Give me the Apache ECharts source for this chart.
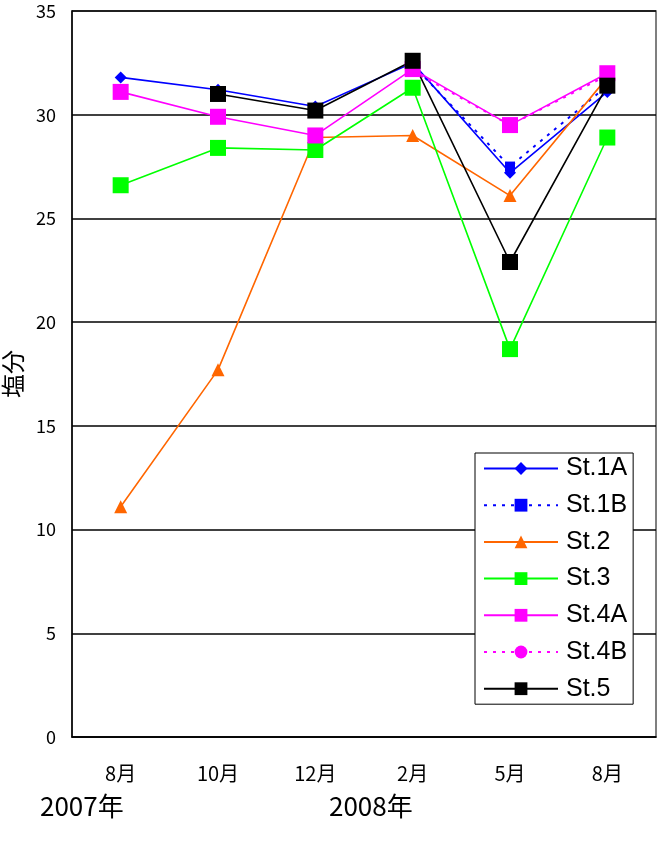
<!DOCTYPE html>
<html><head><meta charset="utf-8">
<script src="https://cdn.jsdelivr.net/npm/echarts@6/dist/echarts.min.js"></script>
<style>html,body{margin:0;padding:0;background:#fff}#c{width:660px;height:849px}</style>
</head><body><div id="c"></div>
<script>
const categories = ['8月', '10月', '12月', '2月', '5月', '8月'];
const yearLabels = ['2007年', '2008年'];
const st1A = [31.8, 31.2, 30.4, 32.5, 27.2, 31.1];
const st1B = [null, null, null, 32.4, 27.5, 31.4];
const st2  = [11.1, 17.7, 28.9, 29.0, 26.1, 31.8];
const st3  = [26.6, 28.4, 28.3, 31.3, 18.7, 28.9];
const st4A = [31.1, 29.9, 29.0, 32.2, 29.5, 32.0];
const st4B = [null, null, null, 32.1, 29.5, 31.9];
const st5  = [null, 31.0, 30.2, 32.6, 22.9, 31.4];

const font = '"Noto Sans CJK JP", "Noto Sans", sans-serif';
function mk(name, data, color, symbol, size, type) {
  return {
    name, type: 'line', data, symbol, symbolSize: size,
    connectNulls: false,
    lineStyle: { color, width: type ? 2 : 1.6, type: type || 'solid' },
    itemStyle: { color },
    emphasis: { disabled: true }
  };
}
const chart = echarts.init(document.getElementById('c'), null, { renderer: 'canvas' });
chart.setOption({
  animation: false,
  backgroundColor: '#fff',
  grid: { left: 72, right: 4, top: 11, bottom: 112, containLabel: false, outerBoundsMode: 'none',
          show: true, borderColor: '#555', borderWidth: 1.5 },
  xAxis: {
    type: 'category', data: categories, boundaryGap: true,
    axisLine: { lineStyle: { color: '#000', width: 1.5 } },
    axisTick: { inside: true, length: 6, lineStyle: { color: '#000' } },
    axisLabel: { color: '#000', fontSize: 20, fontFamily: font, margin: 26 }
  },
  yAxis: {
    type: 'value', min: 0, max: 35, interval: 5,
    name: '塩分', nameLocation: 'middle', nameRotate: 90, nameGap: 47,
    nameTextStyle: { color: '#000', fontSize: 24, fontFamily: font },
    axisLine: { show: true, lineStyle: { color: '#000', width: 1.5 } },
    axisTick: { show: false },
    axisLabel: { color: '#000', fontSize: 18, fontFamily: font, margin: 16 },
    splitLine: { lineStyle: { color: '#000', width: 1.5 } }
  },
  legend: {
    orient: 'vertical', left: 475, top: 453,
    backgroundColor: '#fff', borderColor: '#000', borderWidth: 1,
    padding: [3, 6, 3, 8],
    itemWidth: 74, itemHeight: 16, itemGap: 11.7,
    textStyle: { color: '#000', fontSize: 25, fontFamily: '"Liberation Sans", Arial, sans-serif', padding: [0, 0, 0, 3] },
    data: ['St.1A', 'St.1B', 'St.2', 'St.3', 'St.4A', 'St.4B', 'St.5']
  },
  graphic: [
    { type: 'text', left: 40, top: 793, style: { text: yearLabels[0], fill: '#000', font: '26px ' + font } },
    { type: 'text', left: 329, top: 793, style: { text: yearLabels[1], fill: '#000', font: '26px ' + font } }
  ],
  series: [
    mk('St.1A', st1A, '#0000FF', 'diamond', 12),
    mk('St.1B', st1B, '#0000FF', 'rect', 10, [3, 6]),
    mk('St.2', st2, '#FF6600', 'triangle', 13),
    mk('St.3', st3, '#00FF00', 'rect', 16),
    mk('St.4A', st4A, '#FF00FF', 'rect', 16),
    mk('St.4B', st4B, '#FF00FF', 'circle', 10, [3, 6]),
    mk('St.5', st5, '#000000', 'rect', 16)
  ]
});
</script></body></html>
